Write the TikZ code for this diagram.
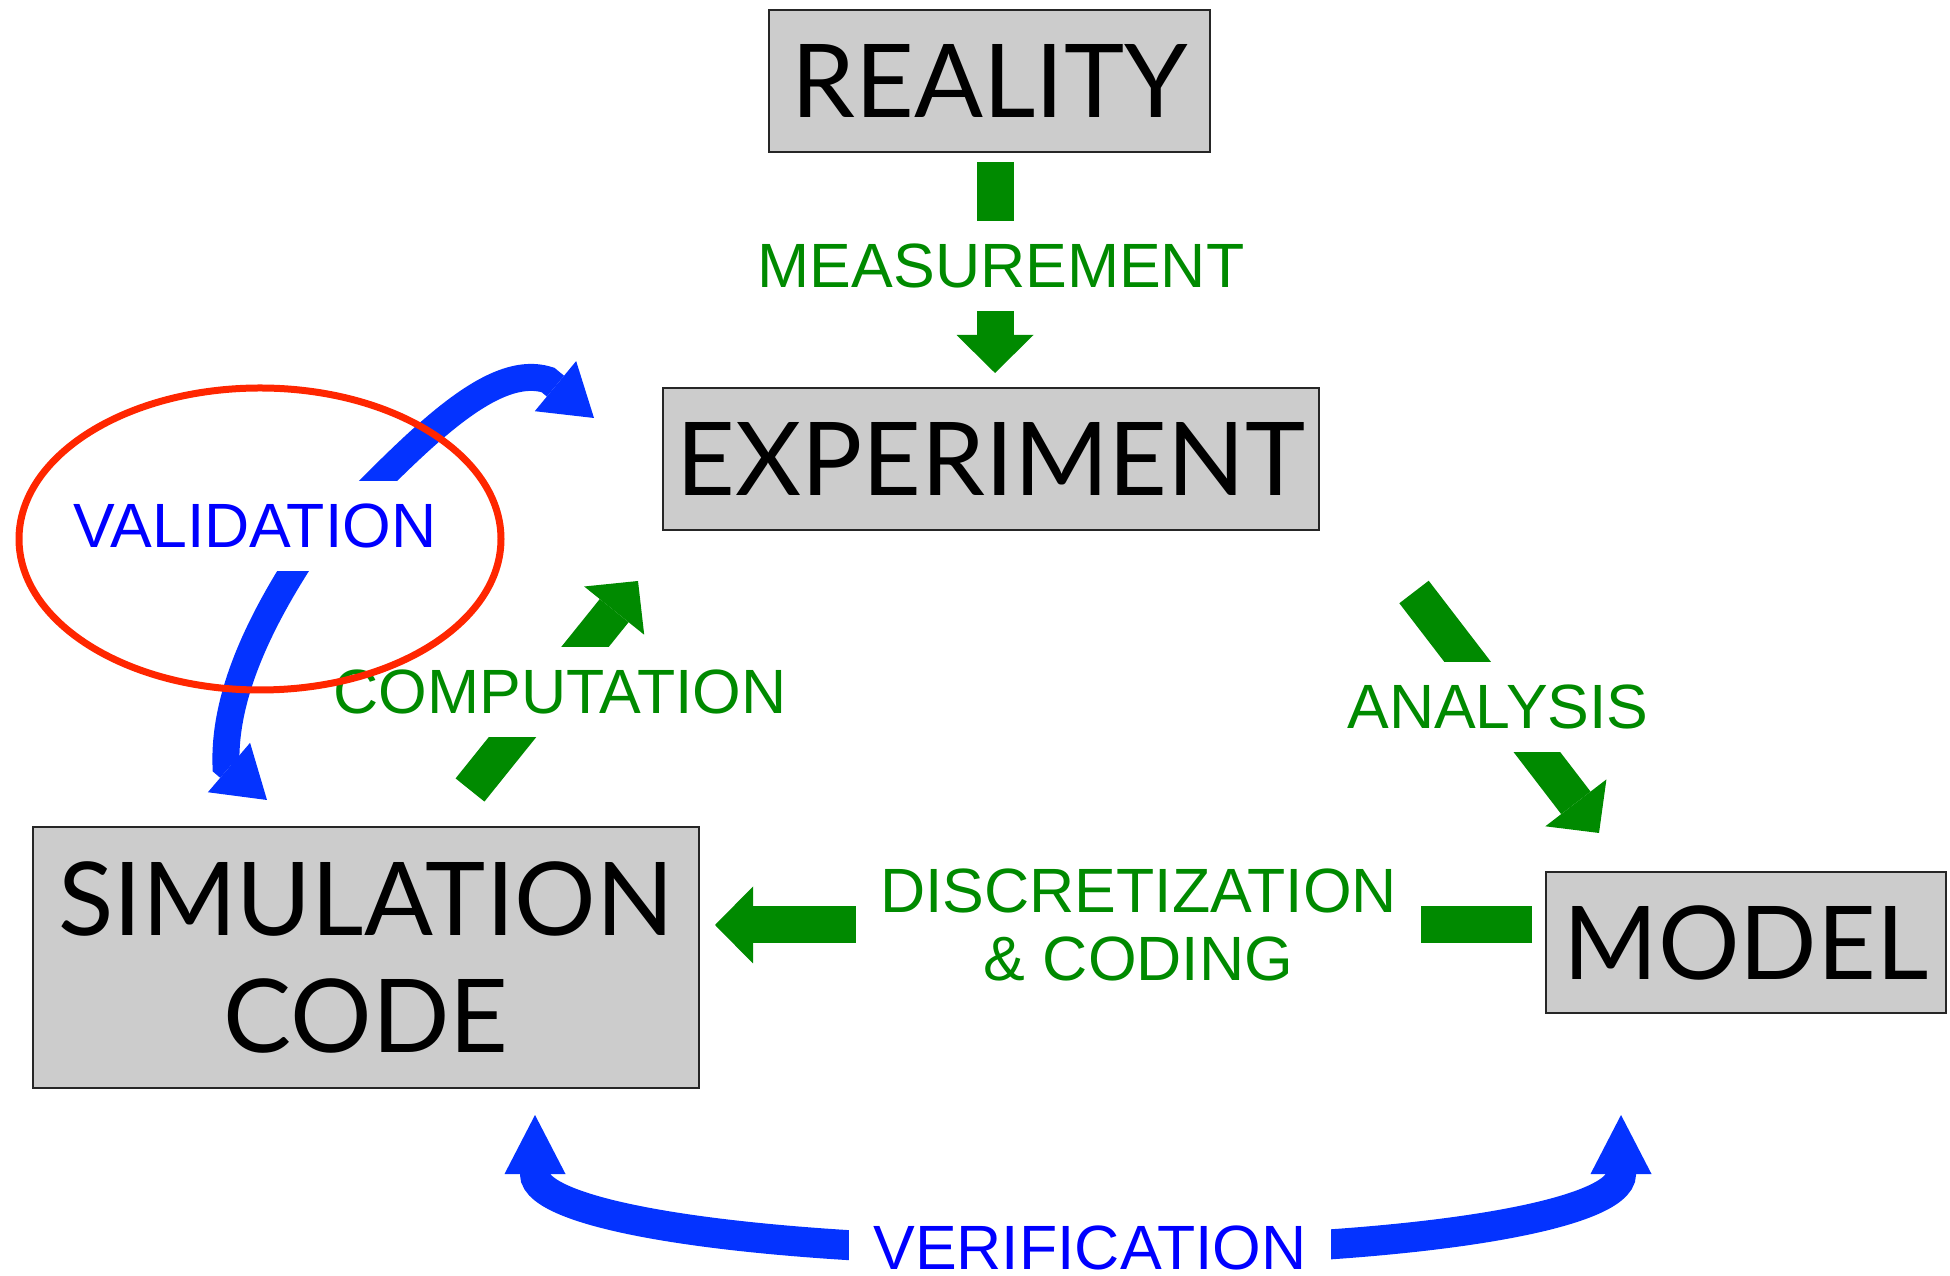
\documentclass[tikz,border=0pt]{standalone}
\usepackage{fontspec}
\setmainfont{Liberation Sans}
\newfontfamily\boxfont{Lato}
\usetikzlibrary{arrows.meta}

\begin{document}
\begin{tikzpicture}[x=0.1mm, y=-0.1mm,
    box/.style={draw=black!85, line width=0.6pt, fill=boxgray, inner sep=0pt,
        align=center, font=\boxfont\fontsize{29}{33.3}\selectfont},
    lbl/.style={fill=white, inner xsep=7pt, inner ysep=6.6pt, align=center,
        font=\fontsize{17.8}{19.6}\selectfont},
    greenlbl/.style={lbl, text=stepgreen},
    bluelbl/.style={lbl, text=textblue},
    greentip/.tip={Triangle[length=3.8mm, width=7.7mm, line width=0pt]},
    valtip/.tip={Triangle[length=5mm, width=6.5mm, line width=0pt]},
    vertip/.tip={Triangle[length=5.9mm, width=6.1mm, line width=0pt]},
    greenarrow/.style={draw=stepgreen, line width=3.7mm, -{greentip}},
    bluearrow/.style={draw=arrowblue, line width=#1},
]
    % Define colors
    \definecolor{boxgray}{RGB}{204, 204, 204}
    \definecolor{stepgreen}{RGB}{0, 138, 0}
    \definecolor{arrowblue}{RGB}{4, 51, 255}
    \definecolor{textblue}{RGB}{0, 0, 255}
    \definecolor{ringred}{RGB}{255, 38, 0}

    \useasboundingbox (0,0) rectangle (1950,1276);

    % Draw the boxes
    \node[box, minimum width=44.1mm, minimum height=14.2mm] (reality) at (989.5,81) {REALITY};
    \node[box, minimum width=65.6mm, minimum height=14.2mm] (experiment) at (991,459) {EXPERIMENT};
    \node[box, minimum width=66.6mm, minimum height=26.1mm] (simcode) at (366,957.5) {SIMULATION\\CODE};
    \node[box, minimum width=40mm, minimum height=14.1mm] (model) at (1746,942.5) {MODEL};

    % Arrow ends
    \coordinate (meas-a) at (995,162);
    \coordinate (meas-b) at (995,373);
    \coordinate (comp-a) at (470,790);
    \coordinate (comp-b) at (638,581);
    \coordinate (anal-a) at (1414,592);
    \coordinate (anal-b) at (1599,833);
    \coordinate (disc-a) at (1532,925);
    \coordinate (disc-b) at (715,925);
    \coordinate (val-a) at (267,800);
    \coordinate (val-b) at (594,418);
    \coordinate (ver-a) at (535,1115);
    \coordinate (ver-b) at (1621,1115);

    % Draw the green steps
    \draw[greenarrow] (meas-a) -- (meas-b);
    \draw[greenarrow] (comp-a) -- (comp-b);
    \draw[greenarrow] (anal-a) -- (anal-b);
    \draw[greenarrow] (disc-a) -- (disc-b);

    % Draw the validation hook
    \draw[bluearrow=2.7mm, {valtip}-{valtip}] (val-a) -- (226,765)
        .. controls (224,700) and (255,630) .. (300,560)
        .. controls (400,460) and (485,360) .. (548,380) -- (val-b);

    % Draw the verification arc
    \draw[bluearrow=3mm, {vertip}-{vertip}] (ver-a) -- (535,1174)
        .. controls (535,1215) and (740,1252) .. (1090,1252)
        .. controls (1420,1252) and (1621,1215) .. (1621,1174) -- (ver-b);

    % Labels
    \node[greenlbl] (meas) at (1001,266) {MEASUREMENT};
    \node[greenlbl] (comp) at (560,692) {COMPUTATION};
    \node[greenlbl] (anal) at (1498,707) {ANALYSIS};
    \node[greenlbl] (disc) at (1138.5,925) {DISCRETIZATION\\\& CODING};
    \node[bluelbl] (valid) at (255,526) {VALIDATION};
    \node[bluelbl, inner ysep=1pt] (verif) at (1090,1248) {VERIFICATION};

    % Draw the red ring
    \draw[ringred, line width=0.7mm] (260,539) ellipse [x radius=24.1mm, y radius=15.1mm];
\end{tikzpicture}
\end{document}
